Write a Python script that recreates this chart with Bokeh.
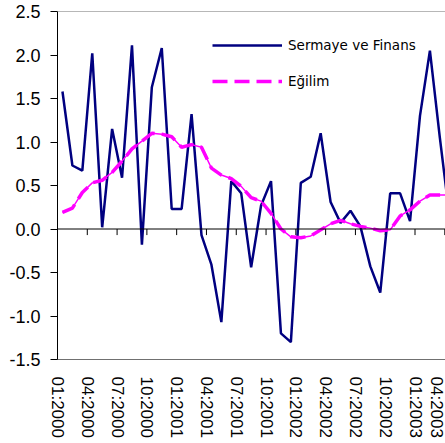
from bokeh.plotting import figure
from bokeh.models import Range1d, FixedTicker, PrintfTickFormatter, Span, Legend, LegendItem
from bokeh.embed import file_html
from bokeh.resources import INLINE

# ---- data ----
tick_labels = ["01:2000", "04:2000", "07:2000", "10:2000",
               "01:2001", "04:2001", "07:2001", "10:2001",
               "01:2002", "04:2002", "07:2002", "10:2002",
               "01:2003", "04:2003"]

sermaye = [1.58, 0.73, 0.67, 2.02, 0.02, 1.15, 0.59, 2.11, -0.18, 1.63,
           2.08, 0.23, 0.23, 1.32, -0.07, -0.41, -1.07, 0.55, 0.41, -0.44,
           0.27, 0.55, -1.20, -1.30, 0.53, 0.60, 1.10, 0.31, 0.07, 0.21,
           0.03, -0.43, -0.73, 0.41, 0.41, 0.09, 1.30, 2.05, 1.05, 0.12]

egilim = [0.19, 0.24, 0.42, 0.53, 0.56, 0.65, 0.78, 0.92, 1.01, 1.10,
          1.09, 1.06, 0.94, 0.97, 0.94, 0.70, 0.62, 0.58, 0.49, 0.36,
          0.32, 0.18, 0.00, -0.09, -0.10, -0.08, -0.01, 0.06, 0.10, 0.06,
          0.03, 0.01, -0.02, -0.01, 0.15, 0.22, 0.32, 0.39, 0.39, 0.39]

y_ticks = [-1.5, -1.0, -0.5, 0.0, 0.5, 1.0, 1.5, 2.0, 2.5]

# month i is drawn in the middle of its category slot
x = [i + 0.5 for i in range(len(sermaye))]
tick_pos = [3 * k for k in range(len(tick_labels))]

p = figure(width=445, height=443, output_backend="svg", toolbar_location=None,
           x_range=Range1d(0, 39.07), y_range=Range1d(-1.5, 2.5),
           min_border_left=57, min_border_right=0, min_border_top=11,
           min_border_bottom=84)
p.outline_line_color = None
p.grid.visible = False
p.background_fill_color = "white"
p.border_fill_color = "white"

# y axis
p.yaxis.ticker = FixedTicker(ticks=y_ticks)
p.yaxis.formatter = PrintfTickFormatter(format="%.1f")
p.yaxis.axis_line_color = "black"
p.yaxis.major_tick_line_color = "black"
p.yaxis.major_tick_out = 7
p.yaxis.major_tick_in = 0
p.yaxis.minor_tick_line_color = None
p.yaxis.major_label_standoff = 10
p.yaxis.major_label_text_font = "Liberation Sans"
p.yaxis.major_label_text_font_size = "18px"
p.yaxis.major_label_text_color = "black"

# x axis (labels at the bottom, bottom border line)
p.xaxis.ticker = FixedTicker(ticks=tick_pos)
p.xaxis.major_label_overrides = {t: lab for t, lab in zip(tick_pos, tick_labels)}
p.xaxis.major_label_orientation = "vertical"
p.xaxis.axis_line_color = "#707070"
p.xaxis.major_tick_line_color = None
p.xaxis.major_tick_out = 0
p.xaxis.major_tick_in = 0
p.xaxis.minor_tick_line_color = None
p.xaxis.major_label_standoff = 17
p.xaxis.major_label_text_font = "Liberation Sans"
p.xaxis.major_label_text_font_size = "17px"
p.xaxis.major_label_text_color = "black"

# top border and zero line with tick marks
p.add_layout(Span(location=2.5, dimension="width", line_color="#707070", line_width=1))
p.add_layout(Span(location=0, dimension="width", line_color="black", line_width=1))
p.segment(x0=tick_pos, y0=[0] * len(tick_pos), x1=tick_pos, y1=[-0.07] * len(tick_pos),
          line_color="black", line_width=1)

# series
blue = p.line(x, sermaye, line_color="#000080", line_width=2.5)
p.line(x, egilim, line_color="#FF00FF", line_width=1.5)
pink = p.line(x, egilim, line_color="#FF00FF", line_width=3.5, line_dash="15 7")

legend = Legend(items=[LegendItem(label="Sermaye ve Finans", renderers=[blue]),
                       LegendItem(label="Eğilim", renderers=[pink])],
                location=(155, 268), orientation="vertical",
                padding=0, margin=0, spacing=16,
                glyph_width=70, glyph_height=20, label_height=20,
                label_standoff=6,
                label_text_font="DejaVu Sans", label_text_font_size="13.5px",
                label_text_color="black",
                border_line_color=None, background_fill_alpha=0)
p.add_layout(legend)

with open("out.html", "w", encoding="utf-8") as f:
    f.write(file_html(p, INLINE))
